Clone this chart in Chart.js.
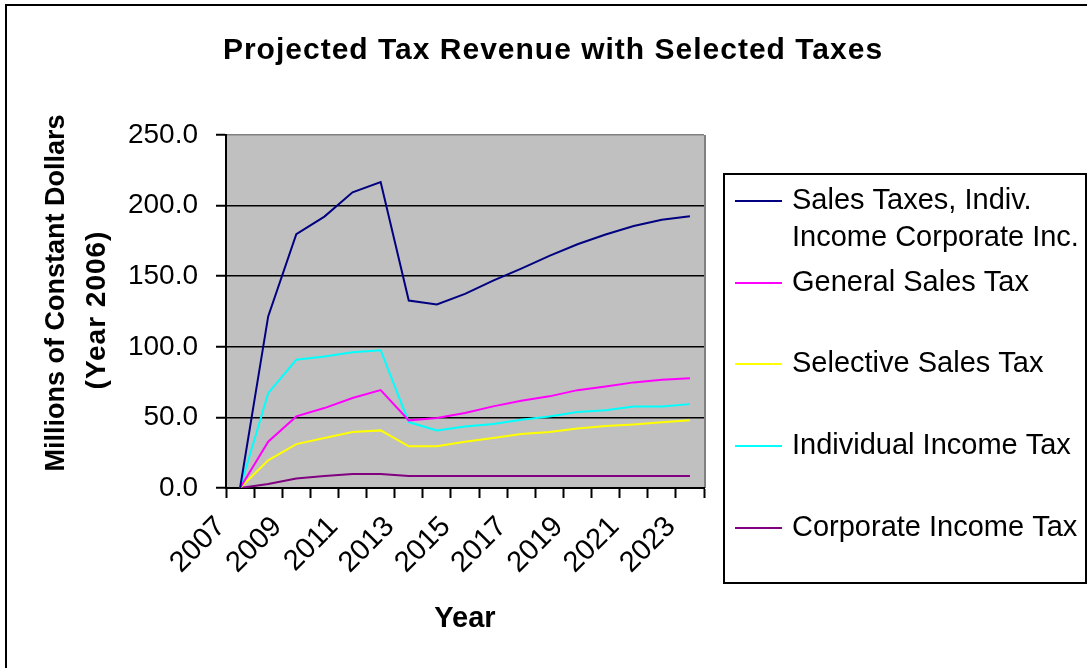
<!DOCTYPE html>
<html>
<head>
<meta charset="utf-8">
<title>Projected Tax Revenue with Selected Taxes</title>
<script src="https://cdn.jsdelivr.net/npm/chart.js@4.4.1/dist/chart.umd.min.js"></script>
<style>
  html, body { margin: 0; padding: 0; background: #fff; }
  canvas { display: block; }
</style>
</head>
<body>
<canvas id="taxChart" width="1087" height="668"></canvas>
<script>
// Values (millions of constant 2006 dollars)
const years = ['2007', '2008', '2009', '2010', '2011', '2012', '2013', '2014', '2015',
               '2016', '2017', '2018', '2019', '2020', '2021', '2022', '2023'];
const salesIndivCorp = [0, 121.5, 179.7, 192.2, 209.4, 216.7, 132.8, 130.0, 137.5,
                        146.9, 155.4, 164.4, 172.6, 179.5, 185.6, 189.9, 192.5];
const generalSales = [0, 32.8, 50.7, 56.6, 63.7, 69.3, 47.9, 49.5, 53.1,
                      57.8, 61.8, 64.9, 69.3, 71.9, 74.8, 76.7, 77.8];
const selectiveSales = [0, 19.6, 31.1, 35.4, 39.6, 40.8, 29.5, 29.5, 32.8,
                        35.4, 38.2, 39.6, 42.2, 43.9, 45.0, 46.5, 47.9];
const individualIncome = [0, 67.2, 90.8, 93.2, 96.2, 97.6, 46.7, 40.8, 43.6,
                          45.3, 48.3, 50.7, 53.8, 55.0, 57.8, 57.8, 59.4];
const corporateIncome = [0, 2.8, 6.8, 8.5, 9.9, 9.9, 8.5, 8.5, 8.5,
                         8.5, 8.5, 8.5, 8.5, 8.5, 8.5, 8.5, 8.5];

// legend text, one array per series (first one wraps on two lines)
const seriesNames = [
    ['Sales Taxes, Indiv.', 'Income Corporate Inc.'],
    ['General Sales Tax'],
    ['Selective Sales Tax'],
    ['Individual Income Tax'],
    ['Corporate Income Tax']
];
const seriesColors = ['#000080', '#ff00ff', '#ffff00', '#00ffff', '#800080'];
const yMin = 0, yMax = 250, yStep = 50;

const FONT = "'Liberation Sans', Arial, sans-serif";

// grey plot area + its grey right edge
const plotBackground = {
    id: 'plotBackground',
    beforeDraw(chart) {
        const { ctx, chartArea: a } = chart;
        ctx.save();
        ctx.fillStyle = '#c0c0c0';
        ctx.fillRect(a.left, a.top, a.right - a.left, a.bottom - a.top);
        ctx.strokeStyle = '#808080';
        ctx.lineWidth = 2;
        ctx.beginPath();
        ctx.moveTo(a.right + 1, a.top);
        ctx.lineTo(a.right + 1, a.bottom);
        ctx.stroke();
        ctx.restore();
    }
};

// outer frame, titles and the boxed legend on the right
const chartFrame = {
    id: 'chartFrame',
    afterDraw(chart) {
        const { ctx, chartArea: a } = chart;
        ctx.save();
        ctx.strokeStyle = '#000';
        ctx.lineWidth = 2;
        ctx.strokeRect(6, 5, 1200, 800);

        ctx.fillStyle = '#000';
        ctx.textAlign = 'center';
        ctx.textBaseline = 'alphabetic';
        ctx.font = 'bold 30px ' + FONT;
        ctx.letterSpacing = '1px';
        ctx.fillText('Projected Tax Revenue with Selected Taxes', 553, 59);
        ctx.letterSpacing = '0px';

        ctx.textBaseline = 'middle';
        ctx.font = 'bold 29px ' + FONT;
        ctx.fillText('Year', (a.left + a.right) / 2, 619);

        ctx.font = 'bold 27px ' + FONT;
        ctx.save();
        ctx.translate(57, 293);
        ctx.rotate(-Math.PI / 2);
        ctx.fillText('Millions of Constant Dollars', 0, 0);
        ctx.restore();
        ctx.font = 'bold 28px ' + FONT;
        ctx.save();
        ctx.translate(97, 310);
        ctx.rotate(-Math.PI / 2);
        ctx.letterSpacing = '1px';
        ctx.fillText('(Year 2006)', 0, 0);
        ctx.letterSpacing = '0px';
        ctx.restore();

        // legend
        ctx.lineWidth = 2;
        ctx.strokeRect(724, 174, 362, 409);
        const rowY = [201, 283, 364, 446, 528];
        ctx.font = '29px ' + FONT;
        ctx.textAlign = 'left';
        chart.data.datasets.forEach((ds, i) => {
            ctx.strokeStyle = ds.borderColor;
            ctx.lineWidth = 2;
            ctx.beginPath();
            ctx.moveTo(735, rowY[i]);
            ctx.lineTo(782, rowY[i]);
            ctx.stroke();
            seriesNames[i].forEach((line, j) => {
                ctx.fillText(line, 792, rowY[i] + j * 37);
            });
        });
        ctx.restore();
    }
};

const series = [salesIndivCorp, generalSales, selectiveSales, individualIncome, corporateIncome];

let ctxTax = document.getElementById('taxChart').getContext('2d');
let taxChart = new Chart(ctxTax, {
    type: 'line',
    data: {
        labels: years,
        datasets: series.map((values, i) => ({
            label: seriesNames[i].join(' '),
            data: values,
            borderColor: seriesColors[i],
            backgroundColor: seriesColors[i],
            borderWidth: 2,
            fill: false,
            tension: 0,
            pointRadius: 0
        }))
    },
    options: {
        responsive: false,
        animation: false,
        layout: { padding: { left: 0, top: 135, right: 383, bottom: 0 } },
        plugins: {
            legend: { display: false },
            title: { display: false },
            tooltip: { enabled: false }
        },
        scales: {
            x: {
                offset: true,
                grid: {
                    offset: true,
                    drawOnChartArea: false,
                    tickLength: 10,
                    tickColor: '#000',
                    tickWidth: 2
                },
                border: { color: '#000', width: 2 },
                ticks: {
                    autoSkip: false,
                    minRotation: 45,
                    maxRotation: 45,
                    labelOffset: -19,
                    padding: 12,
                    color: '#000',
                    font: { family: FONT, size: 29 },
                    callback: function (value, index) {
                        return index % 2 === 0 ? this.getLabelForValue(value) : '';
                    }
                },
                afterFit: (scale) => { scale.height = 180; }
            },
            y: {
                min: yMin,
                max: yMax,
                grid: {
                    color: (c) => (c.tick && c.tick.value === yMax ? '#808080' : '#000'),
                    lineWidth: 1.5,
                    tickLength: 10,
                    tickColor: '#000',
                    tickWidth: 2
                },
                border: { color: '#000', width: 2 },
                ticks: {
                    stepSize: yStep,
                    padding: 18,
                    color: '#000',
                    font: { family: FONT, size: 28 },
                    callback: (v) => v.toFixed(1)
                },
                afterFit: (scale) => { scale.width = 226; }
            }
        }
    },
    plugins: [plotBackground, chartFrame]
});
</script>
</body>
</html>
